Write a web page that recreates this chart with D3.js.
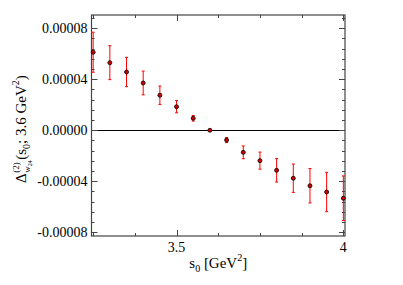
<!DOCTYPE html>
<html>
<head>
<meta charset="utf-8">
<script src="https://cdn.jsdelivr.net/npm/d3@7"></script>
<style>
    body { margin: 0; background: #fff; }
    svg { display: block; }
    text { font-family: "Liberation Serif", "Times New Roman", serif; fill: #000; }
</style>
</head>
<body>
<div id="chart"></div>
<script>
// Data
const s0 = [3.25, 3.30, 3.35, 3.40, 3.45, 3.50, 3.55, 3.60, 3.65, 3.70, 3.75, 3.80, 3.85, 3.90, 3.95, 4.00];
const delta = [6.12e-5, 5.30e-5, 4.57e-5, 3.71e-5, 2.75e-5, 1.85e-5, 0.94e-5, 0, -0.77e-5, -1.73e-5, -2.38e-5, -3.14e-5, -3.76e-5, -4.35e-5, -4.84e-5, -5.33e-5];
const err = [1.57e-5, 1.33e-5, 1.15e-5, 0.93e-5, 0.72e-5, 0.48e-5, 0.22e-5, 0, 0.2e-5, 0.5e-5, 0.67e-5, 0.92e-5, 1.11e-5, 1.35e-5, 1.54e-5, 1.75e-5];
const xTicks = [3.5, 4];
const yTicks = [-0.00008, -0.00004, 0, 0.00004, 0.00008];
const yTickLabels = ["-0.00008", "-0.00004", "0.00000", "0.00004", "0.00008"];

const data = s0.map((x, i) => ({ x, y: delta[i], e: err[i] }));

const width = 403, height = 285;
const margin = { top: 15, right: 58, bottom: 49, left: 91.5 };
const frame = "#444";

const svg = d3.select("#chart").append("svg")
    .attr("width", width)
    .attr("height", height);

const x = d3.scaleLinear()
    .domain([3.245, 4.005])
    .range([margin.left, width - margin.right]);

const y = d3.scaleLinear()
    .domain([-0.0000829, 0.0000904])
    .range([height - margin.bottom, margin.top]);

const x0 = margin.left, x1 = width - margin.right;
const y0 = height - margin.bottom, y1 = margin.top;

// minor tick values
const xMinor = d3.range(0, 7).map(k => 3.25 + k * 0.125).filter(v => !xTicks.some(t => Math.abs(t - v) < 1e-9));
const yMinor = d3.range(0, 22).map(k => -0.00008 + k * 0.000008).filter(v => v < 0.0000904 && !yTicks.some(t => Math.abs(t - v) < 1e-12));

// zero line
svg.append("line")
    .attr("x1", x0).attr("x2", x1)
    .attr("y1", Math.round(y(0)) + 0.5).attr("y2", Math.round(y(0)) + 0.5)
    .attr("stroke", "#000").attr("stroke-width", 1);

// ticks (inward, all four sides)
const ticks = svg.append("g").attr("stroke", frame).attr("stroke-width", 1);
const addXTicks = (vals, len) => {
    vals.forEach(v => {
        const px = Math.round(x(v)) + 0.5;
        ticks.append("line").attr("x1", px).attr("x2", px).attr("y1", y0).attr("y2", y0 - len);
        ticks.append("line").attr("x1", px).attr("x2", px).attr("y1", y1).attr("y2", y1 + len);
    });
};
const addYTicks = (vals, len) => {
    vals.forEach(v => {
        const py = Math.round(y(v)) + 0.5;
        ticks.append("line").attr("x1", x0).attr("x2", x0 + len).attr("y1", py).attr("y2", py);
        ticks.append("line").attr("x1", x1).attr("x2", x1 - len).attr("y1", py).attr("y2", py);
    });
};
addXTicks(xTicks, 6);
addXTicks(xMinor, 3);
addYTicks(yTicks, 6);
addYTicks(yMinor, 3);

// frame
svg.append("rect")
    .attr("x", x0).attr("y", y1)
    .attr("width", x1 - x0).attr("height", y0 - y1)
    .attr("fill", "none").attr("stroke", frame).attr("stroke-width", 1.2);

// tick labels
svg.append("g").selectAll("text")
    .data(xTicks)
    .join("text")
    .attr("x", d => x(d))
    .attr("y", y0 + 16)
    .attr("text-anchor", "middle")
    .attr("font-size", 14)
    .text(d => d3.format("")(d));

svg.append("g").selectAll("text")
    .data(yTicks)
    .join("text")
    .attr("x", x0 - 4)
    .attr("y", d => y(d) + 4.5)
    .attr("text-anchor", "end")
    .attr("font-size", 14)
    .text((d, i) => yTickLabels[i]);

// error bars
const bars = svg.append("g").attr("stroke", "#f00").attr("stroke-width", 1);
data.filter(d => d.e > 0).forEach(d => {
    const px = x(d.x);
    bars.append("line").attr("x1", px).attr("x2", px).attr("y1", y(d.y - d.e)).attr("y2", y(d.y + d.e));
    bars.append("line").attr("x1", px - 1.5).attr("x2", px + 1.5).attr("y1", y(d.y - d.e)).attr("y2", y(d.y - d.e));
    bars.append("line").attr("x1", px - 1.5).attr("x2", px + 1.5).attr("y1", y(d.y + d.e)).attr("y2", y(d.y + d.e));
});

// points
svg.append("g").selectAll("circle")
    .data(data)
    .join("circle")
    .attr("cx", d => x(d.x))
    .attr("cy", d => y(d.y))
    .attr("r", 2)
    .attr("fill", "#d00000")
    .attr("stroke", "#000")
    .attr("stroke-width", 0.8);

// x label: s_0 [GeV^2]
const xl = svg.append("text")
    .attr("x", (x0 + x1) / 2)
    .attr("y", 268)
    .attr("text-anchor", "middle")
    .attr("font-size", 15);
xl.append("tspan").text("s");
xl.append("tspan").attr("dy", 4).attr("font-size", 10).text("0");
xl.append("tspan").attr("dy", -4).text(" [GeV");
xl.append("tspan").attr("dy", -7).attr("font-size", 10).text("2");
xl.append("tspan").attr("dy", 7).text("]");

// y label: Delta^(2)_{w_24}(s_0; 3.6 GeV^2), rotated
const yl = svg.append("g").attr("transform", "translate(26,183) rotate(-90)");
const dTxt = yl.append("text").attr("x", 0).attr("y", 0).attr("font-size", 15).text("Δ");
const dW = dTxt.node().getComputedTextLength();
const sup = yl.append("text").attr("x", dW + 0.5).attr("y", -7).attr("font-size", 9).text("(2)");
const sub = yl.append("text").attr("x", dW + 0.5).attr("y", 4).attr("font-size", 9);
sub.append("tspan").text("w");
sub.append("tspan").attr("dy", 2).attr("font-size", 6).text("24");
const offs = dW + 1 + Math.max(sup.node().getComputedTextLength(), sub.node().getComputedTextLength());
const main = yl.append("text").attr("x", offs).attr("y", 0).attr("font-size", 15);
main.append("tspan").text("(s");
main.append("tspan").attr("dy", 4).attr("font-size", 10).text("0");
main.append("tspan").attr("dy", -4).text("; 3.6 GeV");
main.append("tspan").attr("dy", -7).attr("font-size", 10).text("2");
main.append("tspan").attr("dy", 7).text(")");
</script>
</body>
</html>
